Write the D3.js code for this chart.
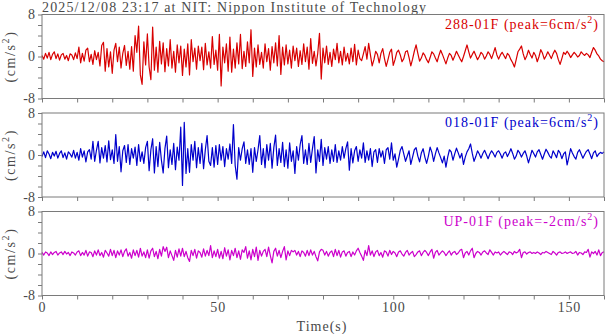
<!DOCTYPE html>
<html><head><meta charset="utf-8">
<script src="https://cdn.jsdelivr.net/npm/d3@7"></script>
<style>html,body{margin:0;padding:0;background:#fff;}svg{display:block;}</style>
</head><body>
<svg id="c" width="605" height="334"></svg>
<script>
// sampling interval of the traces (s)
const dt = 0.5;
const xTicks = [0, 50, 100, 150];
const yTicks = [-8, 0, 8];
const titleText = "2025/12/08 23:17 at NIT: Nippon Institute of Technology";
const channelNames = ["288-01F (peak=6cm/s", "018-01F (peak=6cm/s", "UP-01F (peak=-2cm/s"];

const ch288 = [
0.2,-0.5,0.6,-0.3,0.8,-0.6,0.4,0.9,-0.4,0.5,-0.7,0.3,0.6,-0.5,0.2,-0.8,0.5,0.3,-0.6,0.7,
-0.4,1.8,-1.2,0.6,-0.9,1.2,1.6,-1.0,0.4,-1.5,1.1,-0.6,0.8,-1.8,2.1,2.7,-2.8,1.5,-2.0,0.9,
-3.2,1.2,2.5,-1.0,1.8,-2.2,0.6,2.1,-1.7,1.0,-2.4,1.9,-2.8,4.0,0.8,5.8,-3.5,-5.3,2.8,-1.6,
4.3,-2.0,-4.4,5.6,-2.6,1.8,-3.0,2.9,-1.4,2.6,-2.9,1.5,-1.8,3.2,-2.2,1.0,-3.0,2.2,-1.2,2.0,
-3.6,1.4,-2.0,2.4,-3.5,3.2,-1.0,1.6,-2.4,2.0,-0.8,1.8,-2.5,2.5,-1.6,0.9,-2.2,3.8,-1.5,1.2,
-2.6,4.2,-5.6,1.8,-1.2,2.4,-2.8,3.7,-3.0,1.4,-2.2,2.6,-1.4,4.2,-2.3,1.0,-1.9,2.8,-1.2,5.1,
-3.8,1.6,-2.0,2.2,-1.5,0.8,-2.2,2.4,-1.0,1.5,-2.6,1.9,-1.2,2.6,-1.8,4.0,-3.4,1.8,-1.6,2.2,
-1.4,1.2,-2.2,2.0,-0.8,1.6,-1.9,1.1,-1.5,2.4,-1.0,1.8,-2.4,3.4,-1.3,1.0,-1.8,0.6,4.4,-4.3,
1.6,-1.2,2.0,-1.5,0.8,-1.9,1.4,-0.6,2.5,-1.2,1.0,-1.6,1.8,-0.9,0.6,-1.4,1.6,-1.0,2.3,-1.6,
1.2,-0.4,-0.8,0.5,1.9,-0.5,2.5,0.3,-1.8,-0.6,1.0,0.4,-1.2,0.6,1.5,-0.4,-1.9,-0.6,0.8,1.4,
-1.7,-0.6,0.8,1.2,0.3,-1.0,-0.4,0.9,1.1,-0.2,-1.8,-0.5,1.0,2.2,0.6,-0.9,-0.3,0.7,0.2,-0.6,
-1.2,-0.2,0.9,0.5,-0.3,-1.0,0.2,1.2,0.4,-0.5,-1.4,-0.3,0.6,0.2,-0.7,0.1,1.0,0.3,-0.4,-1.0,
0.0,1.1,2.2,0.9,-0.3,0.4,1.0,0.2,-0.6,0.0,0.8,0.4,-0.5,0.1,0.9,0.4,-0.4,0.6,1.7,0.3,
-0.5,0.3,0.8,0.2,-0.4,0.6,0.2,-0.6,-1.2,-2.0,-0.6,0.9,1.4,2.0,0.5,-0.6,0.1,1.2,0.4,-0.3,
0.8,0.2,-1.0,0.0,1.3,0.6,-0.5,0.1,0.9,0.3,-0.4,0.5,1.2,0.6,-0.6,-1.5,-0.4,0.8,0.4,1.0,
0.5,-0.2,0.3,0.8,0.4,-0.1,0.2,0.9,0.5,0.2,0.6,0.3,-0.2,0.8,1.7,1.2,0.5,0.1,-0.5,-0.8,
-1.0];

const ch018 = [
-0.3,0.6,-0.5,0.8,0.2,-0.7,0.5,-0.2,0.7,-0.6,0.3,0.8,-0.5,0.4,-0.8,0.6,0.2,-0.4,0.9,-0.6,
0.5,-1.0,1.2,-0.4,0.8,-1.3,0.6,1.0,-0.8,2.6,-1.2,0.9,2.6,-1.5,1.4,-0.6,1.8,-1.3,2.7,-0.9,
1.0,-1.6,3.9,-1.2,1.6,-3.2,0.8,1.8,-1.4,2.0,-1.8,1.2,-0.6,1.5,-2.0,2.0,-1.2,0.6,-1.6,1.4,
2.6,-3.0,1.0,3.1,-3.4,1.6,-2.2,2.4,-1.0,-3.4,1.2,3.6,-2.4,1.0,-1.8,2.2,-2.8,1.5,-1.0,5.3,
-5.8,6.2,-3.5,1.2,-3.3,2.0,-1.0,2.6,-2.4,1.4,-1.6,2.2,-2.6,1.0,3.7,-1.2,-2.0,1.4,-2.3,1.8,
-1.8,2.0,-1.0,1.6,-2.2,1.2,-0.8,2.1,-1.6,5.8,-2.0,-4.6,1.4,-1.0,1.2,2.5,-1.6,1.0,-1.8,1.2,
-3.3,1.4,-1.2,1.0,3.7,-1.8,1.2,-2.4,2.0,-1.0,2.2,-2.5,1.4,3.8,-2.0,1.2,-1.4,2.4,-2.2,1.0,
-2.5,2.3,-1.2,0.8,-3.5,1.6,-1.0,2.0,3.7,-1.6,1.0,-1.8,2.2,-1.4,1.2,3.5,-3.4,1.0,-1.2,3.0,
-2.0,1.4,-0.8,1.6,-1.6,1.0,-1.2,2.0,-1.4,0.8,-1.0,1.6,-0.6,1.2,2.5,-2.9,1.2,-1.5,0.8,1.6,
-1.2,1.0,-0.6,2.3,-1.4,0.8,-1.0,1.2,-2.2,0.6,1.0,-1.4,1.2,-0.4,0.8,-1.6,1.0,1.4,-0.8,2.3,
-1.0,0.2,-2.3,-0.8,0.9,1.6,0.2,-1.2,-0.2,0.8,-1.8,-0.4,1.0,1.4,-0.2,-1.3,0.4,1.2,-0.4,-1.6,
-0.2,1.5,0.5,-1.2,0.2,1.4,0.4,-0.5,-1.5,-0.2,-2.3,-0.4,1.0,0.6,-1.0,0.2,1.3,0.4,-0.6,0.3,
-1.8,-0.4,0.6,1.2,2.1,0.3,-1.2,-0.3,0.8,0.2,-0.6,0.3,0.9,0.1,-0.7,0.2,0.8,0.3,-0.4,0.5,
0.8,0.2,-0.6,0.3,0.6,-0.3,0.4,1.2,0.3,-0.8,-0.2,0.9,0.4,-0.4,0.3,0.8,-0.2,-1.5,-0.3,0.9,
0.3,-0.4,0.6,1.0,0.1,-0.8,0.2,1.1,0.5,-0.2,-0.6,0.8,0.2,-0.5,0.9,0.4,-0.7,0.2,0.6,-1.9,
-0.4,1.2,0.4,-0.3,-0.8,0.5,1.0,0.2,-0.6,0.1,0.7,1.0,0.2,-0.7,0.4,0.8,-0.3,0.2,0.5,0.3,
0.6];

const chUP = [
0.2,-0.3,0.3,0.1,-0.4,0.3,-0.2,0.2,0.4,-0.3,0.1,0.3,-0.2,0.4,-0.1,0.2,-0.4,0.3,0.1,-0.3,
0.3,0.5,-0.4,0.2,-0.3,0.6,-0.5,0.3,0.2,-0.6,0.5,-0.3,0.7,-0.4,0.2,-0.7,0.6,0.1,-0.5,0.8,
-0.4,0.6,-0.8,0.5,-0.3,0.7,-0.6,0.4,0.9,-0.5,0.2,-0.9,0.7,-0.4,0.6,-0.7,1.0,-0.5,0.3,-0.8,
0.7,-0.9,0.5,1.0,-0.6,0.4,-1.0,0.8,-0.5,1.3,0.4,1.2,-0.8,0.5,-0.4,-1.3,0.6,-0.7,0.9,-0.5,
1.0,-0.6,0.4,-0.8,-1.5,0.6,-0.4,0.8,-0.9,0.5,0.2,-0.7,0.9,-0.5,0.6,-0.4,1.5,-0.8,0.5,-0.6,
0.8,-0.9,0.4,-1.0,1.1,-0.5,0.7,-1.2,0.6,-0.4,1.0,-0.8,0.5,-1.1,0.7,0.2,1.3,-0.9,0.5,-1.2,
0.8,-0.6,1.2,-1.3,0.6,-0.5,0.4,0.8,-0.6,1.2,-0.4,-1.8,0.4,1.0,-0.5,0.6,-0.8,0.4,1.3,-1.2,
0.5,-0.4,0.6,0.3,0.6,-0.3,0.4,-0.6,0.5,0.2,-0.5,0.6,-0.4,0.7,-0.3,0.4,-0.6,-1.4,0.3,0.8,
0.6,-0.3,0.4,-0.5,0.2,0.5,-0.6,0.8,-0.4,0.6,-0.7,0.3,0.5,-0.5,0.2,0.4,-0.6,0.3,-0.3,0.5,
1.0,0.2,-0.5,-1.3,0.6,-0.4,1.5,-0.3,0.5,-0.6,0.3,0.6,-0.4,0.2,-0.7,0.5,0.3,-0.5,0.6,-0.2,
0.4,0.1,-0.6,0.3,0.5,-0.1,-0.5,0.2,0.6,-0.3,0.1,0.4,-0.6,-0.2,0.3,0.5,-0.4,0.2,0.6,0.2,
-0.4,0.3,0.8,-0.9,0.2,0.6,-0.3,0.1,0.5,0.2,-0.4,0.1,0.5,-0.3,0.2,0.4,-0.2,0.1,0.6,0.8,
-0.8,0.1,0.4,-0.3,0.5,1.0,-0.8,0.0,0.4,0.2,-0.3,0.3,0.5,0.1,-0.2,0.7,0.2,-0.3,0.3,0.1,
0.3,-0.3,0.1,0.4,0.1,-0.2,0.3,0.2,-0.2,0.4,0.1,0.3,0.8,-0.8,0.2,0.3,-0.1,0.2,0.3,0.0,
0.2,0.0,0.3,0.1,-0.2,0.2,0.1,0.4,0.2,0.0,-0.2,0.4,0.1,-0.3,0.2,0.3,0.0,0.1,0.3,0.0,
0.2,0.3,0.0,0.1,0.4,-0.3,0.2,0.1,-0.2,0.3,0.2,0.8,-0.7,0.3,0.0,0.4,-0.3,0.7,-0.4,0.2,
0.3];

const series = [ch288, ch018, chUP];
const colors = ["#d80000", "#0000cc", "#cc00cc"];

const svg = d3.select("#c");
const L = 42, R = 604, H = 84;
const tops = [14.5, 113, 211.5];
const gray = "#7a7a7a", txt = "#4a4a4a";
const font = "'Liberation Serif','Times New Roman',serif";

const x = d3.scaleLinear().domain([0, 160]).range([L, R]);

svg.append("text").attr("x", 42).attr("y", 12)
  .attr("font-family", font).attr("font-size", 14).attr("fill", txt)
  .attr("letter-spacing", 1.15).text(titleText);

series.forEach((vals, i) => {
  const top = tops[i], bot = top + H;
  const y = d3.scaleLinear().domain([-8, 8]).range([bot, top]);
  const g = svg.append("g");

  // trace
  const line = d3.line().x((d, j) => x(j * dt)).y(d => y(d));
  g.append("path").datum(vals).attr("d", line)
    .attr("fill", "none").attr("stroke", colors[i]).attr("stroke-width", 1.2)
    .attr("stroke-linejoin", "round");

  // frame
  g.append("rect").attr("x", L).attr("y", top).attr("width", R - L).attr("height", H)
    .attr("fill", "none").attr("stroke", gray).attr("stroke-width", 1);

  // y axis
  const ya = d3.axisLeft(y).tickValues(d3.range(-8, 9, 2)).tickSize(4)
    .tickFormat(d => yTicks.includes(d) ? d : "");
  const yg = g.append("g").attr("transform", `translate(${L},0)`).call(ya);
  yg.select(".domain").remove();
  yg.selectAll("line").attr("stroke", gray);
  yg.selectAll("text").attr("font-family", font).attr("font-size", 14)
    .attr("fill", txt).attr("x", -7);

  // x axis
  const xa = d3.axisBottom(x).tickValues(d3.range(0, 161, 10)).tickSize(4)
    .tickFormat(d => (i === 2 && xTicks.includes(d)) ? d : "");
  const xg = g.append("g").attr("transform", `translate(0,${bot})`).call(xa);
  xg.select(".domain").remove();
  xg.selectAll("line").attr("stroke", gray);
  xg.selectAll("text").attr("font-family", font).attr("font-size", 14)
    .attr("fill", txt).attr("y", 7).attr("letter-spacing", 0.8);

  // y label
  const yl = g.append("text")
    .attr("transform", `translate(15,${(top + bot) / 2}) rotate(-90)`)
    .attr("text-anchor", "middle").attr("font-family", font).attr("font-size", 14)
    .attr("fill", txt).attr("letter-spacing", 1.6);
  yl.append("tspan").text("(cm/s");
  yl.append("tspan").attr("dy", -6).attr("font-size", 10).text("2");
  yl.append("tspan").attr("dy", 6).text(")");

  // channel label
  const cl = g.append("text").attr("x", 599).attr("y", top + 14)
    .attr("text-anchor", "end").attr("font-family", font).attr("font-size", 14)
    .attr("fill", colors[i]).attr("letter-spacing", 1.0);
  cl.append("tspan").text(channelNames[i]);
  cl.append("tspan").attr("dy", -6).attr("font-size", 10).text("2");
  cl.append("tspan").attr("dy", 6).text(")");
});

svg.append("text").attr("x", 322).attr("y", 331).attr("text-anchor", "middle")
  .attr("font-family", font).attr("font-size", 14).attr("fill", txt)
  .attr("letter-spacing", 1.0).text("Time(s)");
</script>
</body></html>
